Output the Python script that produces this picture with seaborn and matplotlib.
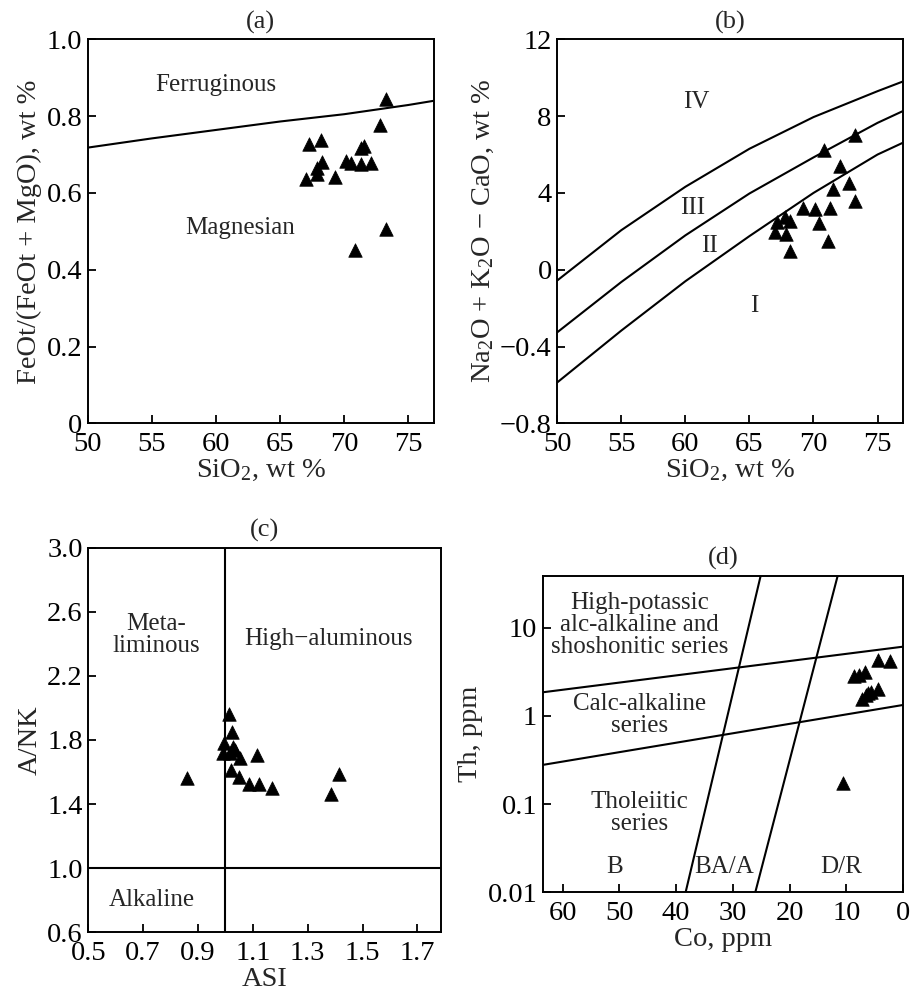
import numpy as np
import pandas as pd
import matplotlib
matplotlib.use("Agg")
import matplotlib.pyplot as plt
import seaborn as sns
from matplotlib.ticker import FixedLocator, NullLocator, FixedFormatter

# ---------------- data ----------------
# (a) FeOt/(FeOt+MgO) vs SiO2
a_sio2 = [73.26, 72.79, 67.26, 68.17, 67.02, 67.85, 68.30, 67.91, 69.26,
          70.11, 70.50, 71.28, 71.57, 71.31, 72.12, 73.26, 70.87]
a_fe = [0.844, 0.778, 0.727, 0.737, 0.635, 0.664, 0.681, 0.648, 0.641,
        0.682, 0.679, 0.718, 0.722, 0.675, 0.679, 0.505, 0.451]
a_line_x = [50, 55, 60, 65, 70, 75, 77]
a_line_y = [0.718, 0.742, 0.764, 0.786, 0.805, 0.829, 0.840]

# (b) Na2O + K2O - CaO vs SiO2 (axis units as drawn)
b_sio2 = [73.26, 70.84, 72.06, 71.49, 72.77, 73.26, 69.20, 70.11, 71.28,
          67.19, 67.77, 68.16, 70.42, 67.01, 67.84, 71.15, 68.20]
b_mali = [7.00, 6.26, 5.39, 4.18, 4.52, 3.60, 3.19, 3.14, 3.19,
          2.49, 2.72, 2.55, 2.41, 1.96, 1.85, 1.49, 0.99]
b_line_x = [50, 55, 60, 65, 70, 75, 77]
b_upper = [-0.56, 2.06, 4.32, 6.30, 7.95, 9.30, 9.81]
b_middle = [-3.26, -0.64, 1.79, 3.97, 5.85, 7.65, 8.27]
b_lower = [-5.87, -3.17, -0.60, 1.75, 4.00, 6.00, 6.62]
b_yticks = [-8, -4, 0, 4, 8, 12]
b_yticklabels = ["\u22120.8", "\u22120.4", "0", "4", "8", "12"]

# (c) A/NK vs ASI
c_asi = [1.014, 1.025, 0.995, 1.029, 0.992, 1.017, 1.035, 1.053, 1.114,
         1.020, 1.050, 1.087, 1.124, 1.170, 0.859, 1.415, 1.384]
c_anK = [1.962, 1.848, 1.783, 1.758, 1.721, 1.717, 1.738, 1.686, 1.707,
         1.613, 1.571, 1.526, 1.526, 1.499, 1.561, 1.588, 1.463]

# (d) Th vs Co
d_co = [4.40, 2.34, 8.62, 7.74, 6.74, 4.40, 5.74, 6.57, 7.33, 6.16, 10.68]
d_th = [4.31, 4.19, 2.83, 2.91, 3.12, 2.02, 1.88, 1.73, 1.54, 1.80, 0.175]
d_up_x = [63.5, 0.0]
d_up_y = [1.85, 6.09]
d_lo_x = [63.5, 0.0]
d_lo_y = [0.278, 1.33]
d_s1_x = [38.33, 25.12]
d_s1_y = [0.01, 38.5]
d_s2_x = [26.06, 11.56]
d_s2_y = [0.01, 38.5]

# ---------------- style ----------------
sns.set_style("ticks")
plt.rcParams['font.family'] = ['Liberation Serif', 'DejaVu Serif']
plt.rcParams['mathtext.fontset'] = 'custom'
plt.rcParams['mathtext.rm'] = 'Liberation Serif'
plt.rcParams['mathtext.it'] = 'Liberation Serif:italic'
plt.rcParams['mathtext.default'] = 'regular'
plt.rcParams['axes.linewidth'] = 1.4
plt.rcParams['axes.edgecolor'] = 'black'

TICK = 20.5
LAB = 20.5
TXT = 18
TIT = 19
LW = 1.5
MS = 95

fig = plt.figure(figsize=(9.11, 9.96), dpi=100)

def style(ax):
    ax.tick_params(direction='in', length=6, width=1.3, labelsize=TICK,
                   top=False, right=False, colors='black', pad=4)
    ax.tick_params(axis='x', pad=6)
    for s in ax.spines.values():
        s.set_visible(True)
        s.set_color('black')
        s.set_linewidth(1.4)

def tri(ax, x, y):
    df = pd.DataFrame({'x': x, 'y': y})
    sns.scatterplot(data=df, x='x', y='y', ax=ax, marker='^', s=MS,
                    color='black', edgecolor='black', linewidth=0.5, zorder=3)

def line(ax, x, y):
    df = pd.DataFrame({'x': x, 'y': y})
    sns.lineplot(data=df, x='x', y='y', ax=ax, color='black', lw=LW,
                 estimator=None, sort=False, zorder=2)

# ---- (a)
axa = fig.add_axes([0.0963, 0.575, 0.380, 0.3855])
line(axa, a_line_x, a_line_y)
tri(axa, a_sio2, a_fe)
axa.set_xlim(50, 77)
axa.set_ylim(0, 1.0)
axa.set_xticks([50, 55, 60, 65, 70, 75])
axa.set_yticks([0, 0.2, 0.4, 0.6, 0.8, 1.0])
axa.set_yticklabels(["0", "0.2", "0.4", "0.6", "0.8", "1.0"])
axa.set_xlabel("SiO$_2$, wt %", fontsize=LAB, labelpad=1)
axa.set_ylabel("FeOt/(FeOt + MgO), wt %", fontsize=LAB, labelpad=3)
axa.set_title("(a)", fontsize=TIT, pad=8)
axa.text(60.0, 0.881, "Ferruginous", fontsize=TXT, ha='center', va='center')
axa.text(61.9, 0.509, "Magnesian", fontsize=TXT, ha='center', va='center')
style(axa)

# ---- (b)
axb = fig.add_axes([0.6117, 0.575, 0.3797, 0.3855])
line(axb, b_line_x, b_upper)
line(axb, b_line_x, b_middle)
line(axb, b_line_x, b_lower)
tri(axb, b_sio2, b_mali)
axb.set_xlim(50, 77)
axb.set_ylim(-8, 12)
axb.set_xticks([50, 55, 60, 65, 70, 75])
axb.yaxis.set_major_locator(FixedLocator(b_yticks))
axb.yaxis.set_major_formatter(FixedFormatter(b_yticklabels))
axb.set_xlabel("SiO$_2$, wt %", fontsize=LAB, labelpad=1)
axb.set_ylabel("Na$_2$O + K$_2$O \u2212 CaO, wt %", fontsize=LAB, labelpad=3)
axb.set_title("(b)", fontsize=TIT, pad=8)
axb.text(60.88, 8.74, "IV", fontsize=TXT, ha='center', va='center')
axb.text(60.6, 3.24, "III", fontsize=TXT, ha='center', va='center')
axb.text(61.87, 1.23, "II", fontsize=TXT, ha='center', va='center')
axb.text(65.36, -1.89, "I", fontsize=TXT, ha='center', va='center')
style(axb)

# ---- (c)
axc = fig.add_axes([0.0969, 0.064, 0.3872, 0.3861])
axc.axvline(1.0, color='black', lw=LW, zorder=2)
axc.axhline(1.0, color='black', lw=LW, zorder=2)
tri(axc, c_asi, c_anK)
axc.set_xlim(0.5, 1.786)
axc.set_ylim(0.6, 3.0)
axc.set_xticks([0.5, 0.7, 0.9, 1.1, 1.3, 1.5, 1.7])
axc.set_yticks([0.6, 1.0, 1.4, 1.8, 2.2, 2.6, 3.0])
axc.set_yticklabels(["0.6", "1.0", "1.4", "1.8", "2.2", "2.6", "3.0"])
axc.set_xlabel("ASI", fontsize=LAB, labelpad=1)
axc.set_ylabel("A/NK", fontsize=LAB, labelpad=3)
axc.set_title("(c)", fontsize=TIT, pad=8)
axc.text(0.749, 2.455, "Meta-\nliminous", fontsize=TXT, ha='center', va='center',
         linespacing=1.05)
axc.text(1.375, 2.428, "High\u2212aluminous", fontsize=TXT, ha='center', va='center')
axc.text(0.731, 0.802, "Alkaline", fontsize=TXT, ha='center', va='center')
style(axc)

# ---- (d)
axd = fig.add_axes([0.5957, 0.1041, 0.3958, 0.3176])
axd.set_yscale('log')
line(axd, d_up_x, d_up_y)
line(axd, d_lo_x, d_lo_y)
line(axd, d_s1_x, d_s1_y)
line(axd, d_s2_x, d_s2_y)
tri(axd, d_co, d_th)
axd.set_xlim(63.5, 0)
axd.set_ylim(0.01, 38.5)
axd.set_xticks([60, 50, 40, 30, 20, 10, 0])
axd.yaxis.set_major_locator(FixedLocator([0.01, 0.1, 1, 10]))
axd.yaxis.set_major_formatter(FixedFormatter(["0.01", "0.1", "1", "10"]))
axd.yaxis.set_minor_locator(NullLocator())
axd.set_xlabel("Co, ppm", fontsize=LAB, labelpad=1)
axd.set_ylabel("Th, ppm", fontsize=LAB, labelpad=3)
axd.set_title("(d)", fontsize=TIT, pad=8)
axd.text(46.4, 10.7, "High-potassic\nalc-alkaline and\nshoshonitic series",
         fontsize=TXT, ha='center', va='center', linespacing=1.0)
axd.text(46.4, 1.02, "Calc-alkaline\nseries", fontsize=TXT, ha='center',
         va='center', linespacing=1.0)
axd.text(46.4, 0.079, "Tholeiitic\nseries", fontsize=TXT, ha='center',
         va='center', linespacing=1.0)
axd.text(50.9, 0.0195, "B", fontsize=TXT, ha='center', va='center')
axd.text(31.6, 0.0195, "BA/A", fontsize=TXT, ha='center', va='center')
axd.text(10.85, 0.0195, "D/R", fontsize=TXT, ha='center', va='center')
style(axd)

fig.savefig("out.png", dpi=100)
